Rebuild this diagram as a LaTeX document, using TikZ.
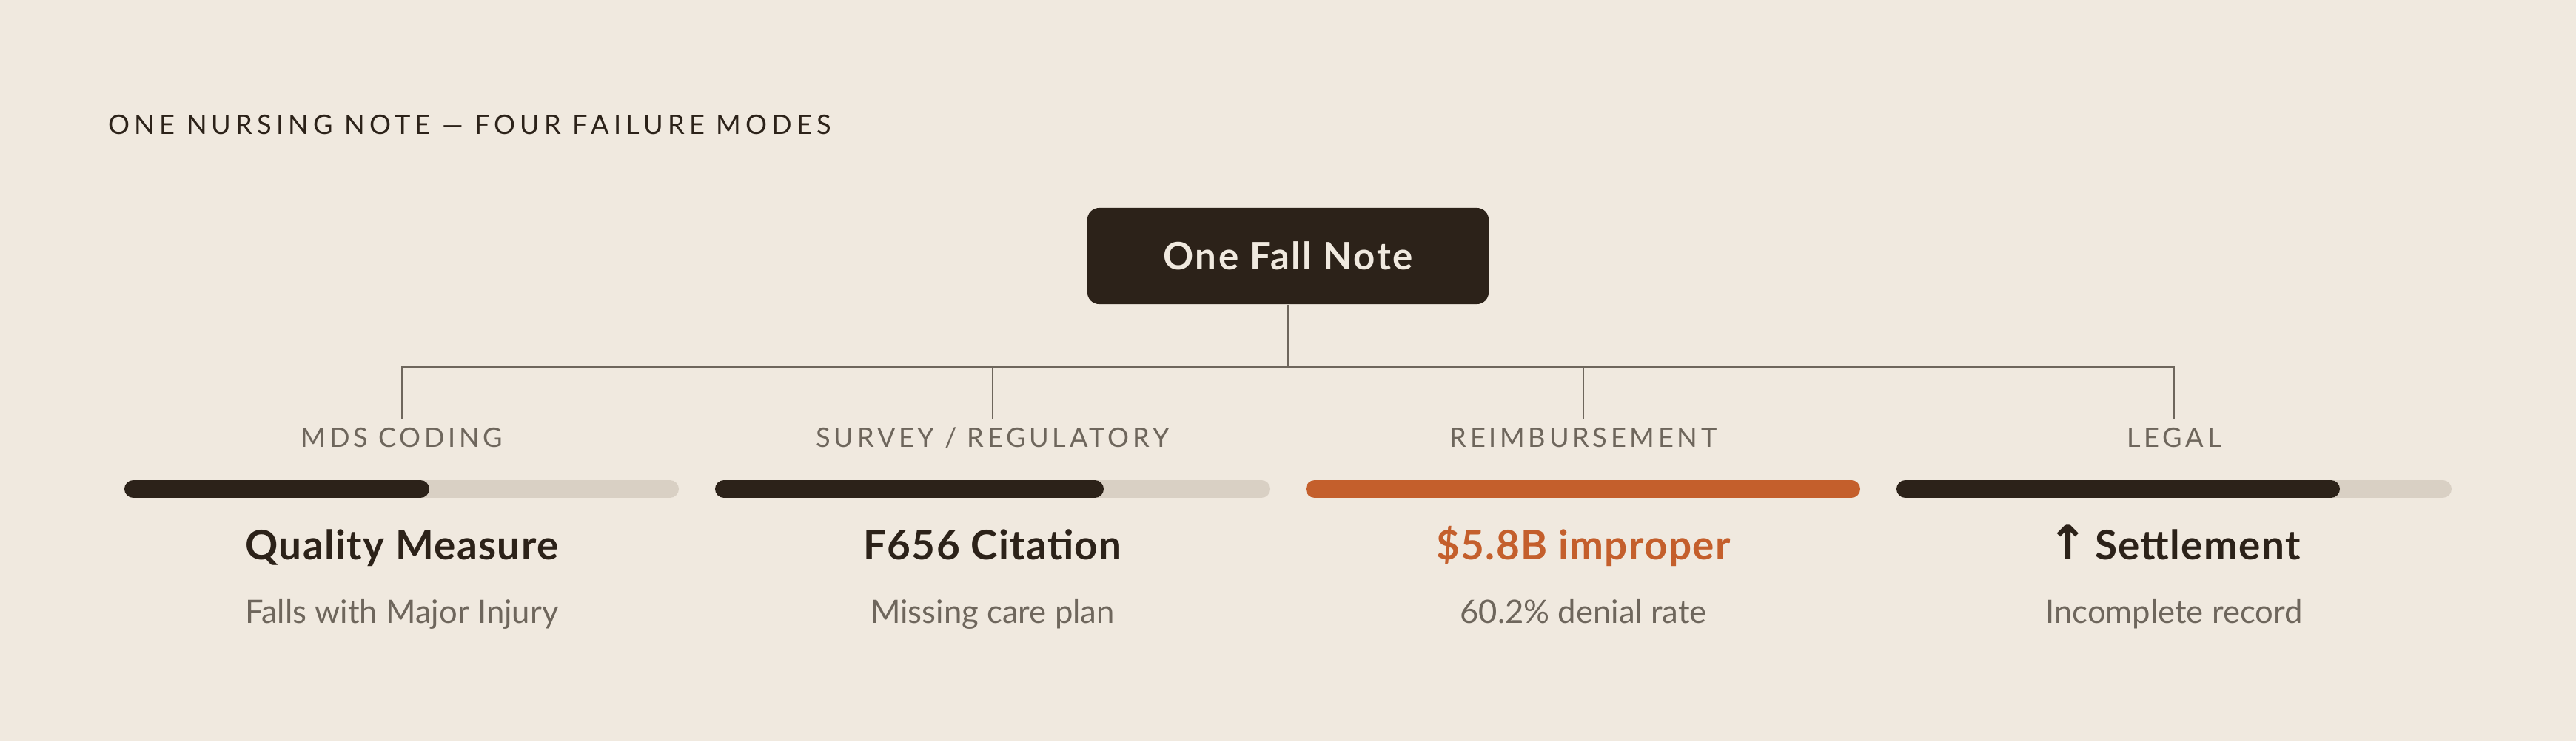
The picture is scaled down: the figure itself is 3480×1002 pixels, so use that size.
\documentclass[tikz,border=0pt]{standalone}
\usepackage{fontspec}
\setmainfont{Lato}
\newfontfamily\symfont{DejaVu Sans}
\newfontfamily\trackfont[LetterSpace=17]{Lato}
\newfontfamily\catfont[LetterSpace=13]{Lato}
\usetikzlibrary{positioning}
\definecolor{paper}{HTML}{F0E9DF}
\definecolor{ink}{HTML}{2C2219}
\definecolor{muted}{HTML}{6E665C}
\definecolor{track}{HTML}{D9D0C4}
\definecolor{rust}{HTML}{C45F2C}
\tikzstyle{notebox} = [rectangle, rounded corners=0.16cm, fill=ink, text=paper, minimum width=5.42cm, minimum height=1.3cm, font=\fontsize{14.5}{17}\selectfont\bfseries\addfontfeature{LetterSpace=5}]
\tikzstyle{heading} = [anchor=base west, inner sep=0pt, text=ink, font=\trackfont\fontsize{10.3}{12}\selectfont]
\tikzstyle{catlabel} = [anchor=base, inner xsep=0pt, inner ysep=0.11cm, text=muted, font=\catfont\fontsize{10.3}{12}\selectfont]
\tikzstyle{headline} = [anchor=base, inner sep=0pt, text=ink, font=\fontsize{15.6}{18}\selectfont\bfseries\addfontfeature{LetterSpace=2.5}]
\tikzstyle{detail} = [anchor=base, inner sep=0pt, text=muted, font=\fontsize{12.4}{14}\selectfont]
\tikzstyle{wire} = [draw=muted, line width=0.025cm]
\tikzstyle{meter} = [line width=0.24cm, line cap=round]

\begin{document}
\begin{tikzpicture}[x=0.01cm, y=-0.01cm]
\fill [paper] (0,0) rectangle (3480,1002);
\useasboundingbox (0,0) rectangle (3480,1002);

% nodes
\node (title) [heading] at (146,181) {ONE NURSING NOTE — FOUR FAILURE MODES};
\node (fall) [notebox] at (1740,346) {One Fall Note};
\coordinate (bus) at (1740,496);

\node (mds) [catlabel] at (543,604) {MDS CODING};
\node (survey) [catlabel] at (1341,604) {SURVEY / REGULATORY};
\node (reimb) [catlabel] at (2139,604) {REIMBURSEMENT};
\node (legal) [catlabel] at (2937,604) {LEGAL};

\node (qm) [headline] at (543,756) {Quality Measure};
\node (f656) [headline] at (1341,756) {F656 Citation};
\node (loss) [headline, text=rust] at (2139,756) {\$5.8B improper};
\node (settle) [headline] at (2937,756) {{\symfont\bfseries\fontsize{18.5}{18}\selectfont ↑}\,Settlement};

\node (qmsub) [detail] at (543,842) {Falls with Major Injury};
\node (f656sub) [detail] at (1341,842) {Missing care plan};
\node (losssub) [detail] at (2139,842) {60.2\% denial rate};
\node (settlesub) [detail] at (2937,842) {Incomplete record};

% edges
\draw [wire] (fall) -- (bus);
\draw [wire] (mds) |- (bus) -| (legal);
\draw [wire] (survey) -- (survey |- bus);
\draw [wire] (reimb) -- (reimb |- bus);

% meters
\draw [meter, track] (180,661) -- (905,661);
\draw [meter, ink] (180,661) -- (568,661);
\draw [meter, track] (978,661) -- (1704,661);
\draw [meter, ink] (978,661) -- (1479,661);
\draw [meter, rust] (1776,661) -- (2501,661);
\draw [meter, track] (2574,661) -- (3300,661);
\draw [meter, ink] (2574,661) -- (3149,661);

\end{tikzpicture}
\end{document}
